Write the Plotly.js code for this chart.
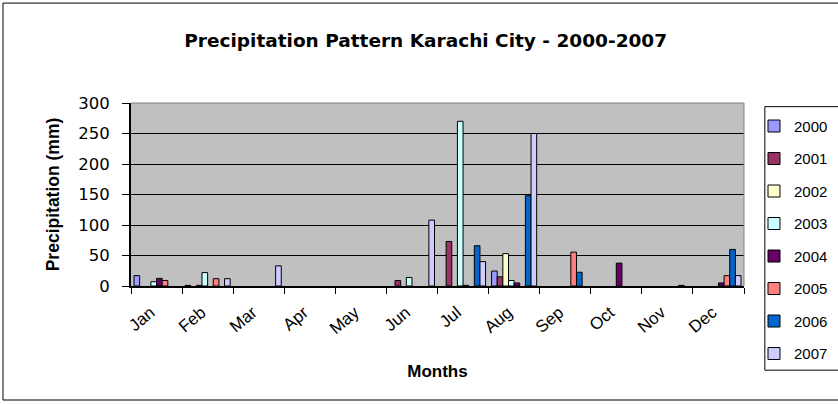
<!DOCTYPE html>
<html>
<head>
<meta charset="utf-8">
<script src="https://cdn.plot.ly/plotly-3.0.1.min.js"></script>
<style>
  html, body { margin: 0; padding: 0; background: #ffffff; }
  #chart { width: 838px; height: 404px; }
</style>
</head>
<body>
<div id="chart"></div>
<script>
// Categories and series (precipitation in mm)
const months = ['Jan', 'Feb', 'Mar', 'Apr', 'May', 'Jun', 'Jul', 'Aug', 'Sep', 'Oct', 'Nov', 'Dec'];
const years = ['2000', '2001', '2002', '2003', '2004', '2005', '2006', '2007'];

const p2000 = [17, 1, 0, 0, 0, 0, 0, 24.5, 0, 0, 0, 0];
const p2001 = [0, 0, 0, 0, 0, 9, 73, 15, 0, 0, 0, 0];
const p2002 = [0, 1, 0, 0, 0, 0, 0, 53, 0, 0, 0, 0];
const p2003 = [7, 22, 0, 0, 0, 14, 270, 9, 0, 0, 0, 0];
const p2004 = [12.5, 0, 0, 0, 0, 0, 1, 5, 0, 37.5, 0, 5];
const p2005 = [9, 12, 0, 0, 0, 0, 0, 0, 55.5, 0, 0, 17];
const p2006 = [0, 0, 0, 0, 0, 0, 66, 148, 22.5, 0, 1, 60];
const p2007 = [0, 12, 33, 0, 0, 108, 40, 250, 0, 0, 0, 17];

const yTickVals = [0, 50, 100, 150, 200, 250, 300];

const seriesValues = [p2000, p2001, p2002, p2003, p2004, p2005, p2006, p2007];
const seriesColors = ['#9999FF', '#993366', '#FFFFCC', '#CCFFFF', '#660066', '#FF8080', '#0066CC', '#CCCCFF'];

// zero months have no bar at all (Excel draws nothing for 0)
const traces = years.map((yr, i) => ({
  type: 'bar',
  name: yr,
  x: months,
  y: seriesValues[i].map(v => (v === 0 ? null : v)),
  legendgroup: 'g' + yr,
  marker: { color: seriesColors[i], line: { color: '#000000', width: 1 } },
  hoverinfo: 'x+y+name'
}));

const layout = {
  width: 838,
  height: 404,
  margin: { l: 131, r: 94, t: 103, b: 118, autoexpand: false },
  paper_bgcolor: '#ffffff',
  plot_bgcolor: '#c0c0c0',
  font: { family: 'Liberation Sans, Arial, sans-serif', color: '#000000' },
  title: {
    text: 'Precipitation Pattern Karachi City - 2000-2007',
    font: { family: 'DejaVu Sans, sans-serif', size: 18.5, weight: 'bold', color: '#000000' },
    x: 0.508, xanchor: 'center', xref: 'container',
    y: 0.90, yanchor: 'middle', yref: 'container'
  },
  barmode: 'group',
  bargap: 0.117,
  bargroupgap: 0,
  xaxis: {
    type: 'category',
    tickson: 'boundaries',
    ticks: 'outside',
    ticklen: 6,
    tickcolor: '#000000',
    tickwidth: 1,
    showline: true,
    linecolor: '#000000',
    linewidth: 2,
    showgrid: false,
    tickangle: -40,
    ticklabelstandoff: 8,
    ticklabelshift: -6,
    tickfont: { family: 'Liberation Sans, Arial, sans-serif', size: 17, color: '#000000' },
    title: { text: 'Months', font: { size: 17, weight: 'bold', color: '#000000' }, standoff: 28 },
    automargin: false,
    fixedrange: true
  },
  yaxis: {
    range: [0, 300],
    tickvals: yTickVals,
    ticks: 'outside',
    ticklen: 7,
    tickcolor: '#000000',
    showline: true,
    linecolor: '#000000',
    linewidth: 2,
    showgrid: true,
    gridcolor: '#000000',
    gridwidth: 1,
    zeroline: false,
    ticklabelstandoff: 9,
    tickfont: { family: 'DejaVu Sans, sans-serif', size: 16.5, color: '#000000' },
    title: { text: 'Precipitation (mm)', font: { size: 17.5, weight: 'bold', color: '#000000' }, standoff: 14 },
    automargin: false,
    fixedrange: true
  },
  legend: {
    x: 1.0163, xanchor: 'left', xref: 'paper',
    y: 0.963, yanchor: 'top', yref: 'paper',
    maxheight: 400,
    bgcolor: 'rgba(0,0,0,0)',
    borderwidth: 0,
    font: { family: 'Liberation Sans, Arial, sans-serif', size: 15, color: '#000000' },
    tracegroupgap: 10,
    itemwidth: 30,
    traceorder: 'grouped'
  },
  shapes: [
    // grey top / right border of the plot area
    { type: 'line', xref: 'paper', yref: 'paper', x0: 0, x1: 1, y0: 1, y1: 1, line: { color: '#808080', width: 1 }, layer: 'above' },
    { type: 'line', xref: 'paper', yref: 'paper', x0: 1, x1: 1, y0: 0, y1: 1, line: { color: '#808080', width: 1 }, layer: 'above' },
    // legend box
    { type: 'rect', xref: 'paper', yref: 'paper', x0: 1.034, x1: 1.25, y0: -0.46, y1: 0.98, line: { color: '#000000', width: 1 }, fillcolor: '#ffffff', layer: 'above' },
    // chart frame
    { type: 'rect', xref: 'paper', yref: 'paper', x0: -0.2088, x1: 1.25, y0: -0.623, y1: 1.546, line: { color: '#000000', width: 1 }, fillcolor: 'rgba(0,0,0,0)', layer: 'below' }
  ],
  showlegend: true
};

Plotly.newPlot('chart', traces, layout, { displayModeBar: false, staticPlot: true });
</script>
</body>
</html>
